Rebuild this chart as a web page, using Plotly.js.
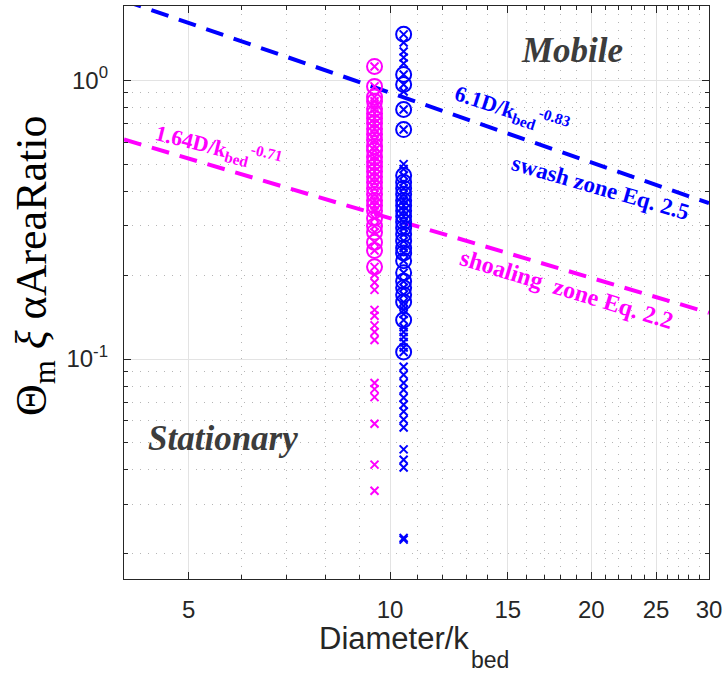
<!DOCTYPE html>
<html>
<head>
<meta charset="utf-8">
<script src="https://cdn.plot.ly/plotly-3.0.1.min.js"></script>
<style>html,body{margin:0;padding:0;background:#fff;} #chart{width:727px;height:673px;}</style>
</head>
<body>
<div id="chart"></div>
<script>
// ---- data ----
const shoalingD = 9.48;   // Diameter/k_bed of the magenta group
const swashD = 10.48;     // Diameter/k_bed of the blue group

const shoalingCircleY = [1.12, 0.95, 0.87, 0.84, 0.79, 0.76, 0.73, 0.70, 0.67, 0.64, 0.61, 0.58, 0.56, 0.53,
  0.51, 0.49, 0.47, 0.45, 0.43, 0.41, 0.39, 0.37, 0.355, 0.34, 0.32, 0.30, 0.285, 0.262, 0.245, 0.214];
const shoalingCrossY = [1.12, 0.95, 0.87, 0.84, 0.79, 0.76, 0.73, 0.70, 0.67, 0.64, 0.61, 0.58, 0.56, 0.53,
  0.51, 0.49, 0.47, 0.45, 0.43, 0.41, 0.39, 0.37, 0.355, 0.34, 0.32, 0.30, 0.285, 0.262, 0.245, 0.214,
  0.201, 0.188, 0.177, 0.15, 0.143, 0.132, 0.125, 0.117, 0.082, 0.078, 0.073, 0.0586, 0.0418, 0.0337];

const swashCircleY = [1.46, 1.048, 0.965, 0.785, 0.665, 0.455, 0.43, 0.41, 0.39, 0.37, 0.355, 0.34, 0.325,
  0.31, 0.295, 0.28, 0.265, 0.25, 0.24, 0.225, 0.204, 0.19, 0.18, 0.17, 0.16, 0.138, 0.106];
const swashCrossY = [1.46, 1.365, 1.267, 1.206, 1.148, 1.048, 0.965, 0.911, 0.785, 0.665, 0.50, 0.48,
  0.455, 0.43, 0.41, 0.39, 0.37, 0.355, 0.34, 0.325, 0.31, 0.295, 0.28, 0.265, 0.25, 0.24, 0.225, 0.204,
  0.19, 0.18, 0.17, 0.16, 0.155, 0.15, 0.145, 0.138, 0.13, 0.125, 0.12, 0.115, 0.11, 0.106,
  0.0938, 0.0878, 0.082, 0.0776, 0.0726, 0.0685, 0.0648, 0.0607, 0.0568, 0.0474, 0.0435, 0.0408, 0.0228, 0.0225];

// threshold lines (end points)
const lineX = [4, 30];
const swashLineY = [1.93, 0.362];      // 6.1 D/k_bed^-0.83
const shoalingLineY = [0.613, 0.1465]; // 1.64 D/k_bed^-0.71

// axis ticks
const xTickVals = [5, 10, 15, 20, 25, 30];
const xTickText = ['5', '10', '15', '20', '25', '30'];
const xMinorVals = [4, 6, 7, 8, 9, 11, 12, 13, 14, 16, 17, 18, 19, 21, 22, 23, 24, 26, 27, 28, 29];
const yTickVals = [0.1, 1];
const yTickText = ['10<sup>-1</sup>', '10<sup>0</sup>'];
const yMinorVals = [0.02, 0.03, 0.04, 0.05, 0.06, 0.07, 0.08, 0.09, 0.2, 0.3, 0.4, 0.5, 0.6, 0.7, 0.8, 0.9];

// ---- styling ----
const BLUE = '#0000ff';
const MAG = '#ff00ff';
const rep = (v, n) => Array.from({length: n}, () => v);

const traces = [
  {x: lineX, y: swashLineY, mode: 'lines', line: {color: BLUE, width: 4, dash: '18px,11px'}, hoverinfo: 'skip'},
  {x: lineX, y: shoalingLineY, mode: 'lines', line: {color: MAG, width: 4, dash: '18px,11px'}, hoverinfo: 'skip'},
  {x: rep(shoalingD, shoalingCircleY.length), y: shoalingCircleY, mode: 'markers',
   marker: {symbol: 'circle-open', size: 15, color: MAG, line: {width: 2, color: MAG}}},
  {x: rep(shoalingD, shoalingCrossY.length), y: shoalingCrossY, mode: 'markers',
   marker: {symbol: 'x-thin-open', size: 8, color: MAG, line: {width: 2, color: MAG}}},
  {x: rep(swashD, swashCircleY.length), y: swashCircleY, mode: 'markers',
   marker: {symbol: 'circle-open', size: 15, color: BLUE, line: {width: 2, color: BLUE}}},
  {x: rep(swashD, swashCrossY.length), y: swashCrossY, mode: 'markers',
   marker: {symbol: 'x-thin-open', size: 8, color: BLUE, line: {width: 2, color: BLUE}}}
];

const W = 727, H = 673, L = 124, R = 18, T = 6, B = 94;
const pw = W - L - R, ph = H - T - B;
const px = v => (v - L) / pw;
const py = v => (H - B - v) / ph;

const serif = 'Liberation Serif, Times New Roman, serif';
const sans = 'Liberation Sans, Arial, Helvetica, sans-serif';

const axisCommon = {
  type: 'log',
  showline: true, linecolor: '#262626', linewidth: 1.2, mirror: 'ticks',
  ticks: 'inside', ticklen: 7, tickwidth: 1, tickcolor: '#262626',
  showgrid: true, gridcolor: '#e3e3e3', gridwidth: 1,
  zeroline: false,
  tickfont: {family: sans, size: 24, color: '#262626'},
  tickmode: 'array'
};

function ann(x, y, text, font, angle, xa) {
  return {xref: 'paper', yref: 'paper', x: px(x), y: py(y), xanchor: xa || 'center', yanchor: 'middle',
          textangle: angle || 0, showarrow: false, text: text, font: font};
}

const layout = {
  width: W, height: H,
  margin: {l: L, r: R, t: T, b: B},
  paper_bgcolor: '#ffffff', plot_bgcolor: '#ffffff',
  showlegend: false,
  xaxis: Object.assign({}, axisCommon, {
    range: [Math.log10(4), Math.log10(30)],
    tickvals: xTickVals, ticktext: xTickText,
    ticklabelstandoff: 9,
    minor: {tickmode: 'array', tickvals: xMinorVals, ticks: 'inside', ticklen: 4, tickcolor: '#262626',
            showgrid: true, gridcolor: '#b5b5b5', gridwidth: 1, griddash: '1px,7px'}
  }),
  yaxis: Object.assign({}, axisCommon, {
    range: [-1.789, 0.266],
    tickvals: yTickVals, ticktext: yTickText,
    ticklabelstandoff: 10,
    minor: {tickmode: 'array', tickvals: yMinorVals, ticks: 'inside', ticklen: 4, tickcolor: '#262626',
            showgrid: true, gridcolor: '#b5b5b5', gridwidth: 1, griddash: '1px,7px'}
  }),
  annotations: [
    ann(34, 266, 'Θ<sub>m</sub> <i>ξ</i> αAreaRatio', {family: serif, size: 44, color: '#000'}, -90),
    ann(471, 639, 'Diameter/k', {family: sans, size: 31, color: '#262626'}, 0, 'right'),
    ann(469, 660, 'bed', {family: sans, size: 23, color: '#262626'}, 0, 'left'),
    ann(572, 50, '<b><i>Mobile</i></b>', {family: serif, size: 35, color: '#3c3c3c'}),
    ann(223, 438, '<b><i>Stationary</i></b>', {family: serif, size: 35, color: '#3c3c3c'}),
    ann(512, 110, '<b>6.1D/k<sub>bed</sub><sup>-0.83</sup></b>', {family: serif, size: 22, color: BLUE}, 18),
    ann(600, 187, '<b>swash zone Eq. 2.5</b>', {family: serif, size: 23, color: BLUE}, 16),
    ann(218, 147, '<b>1.64D/k<sub>bed</sub><sup>-0.71</sup></b>', {family: serif, size: 22, color: MAG}, 14),
    ann(566, 289, '<b>shoaling  zone Eq. 2.2</b>', {family: serif, size: 24, color: MAG}, 17)
  ]
};

Plotly.newPlot('chart', traces, layout, {staticPlot: true, displayModeBar: false});
</script>
</body>
</html>
